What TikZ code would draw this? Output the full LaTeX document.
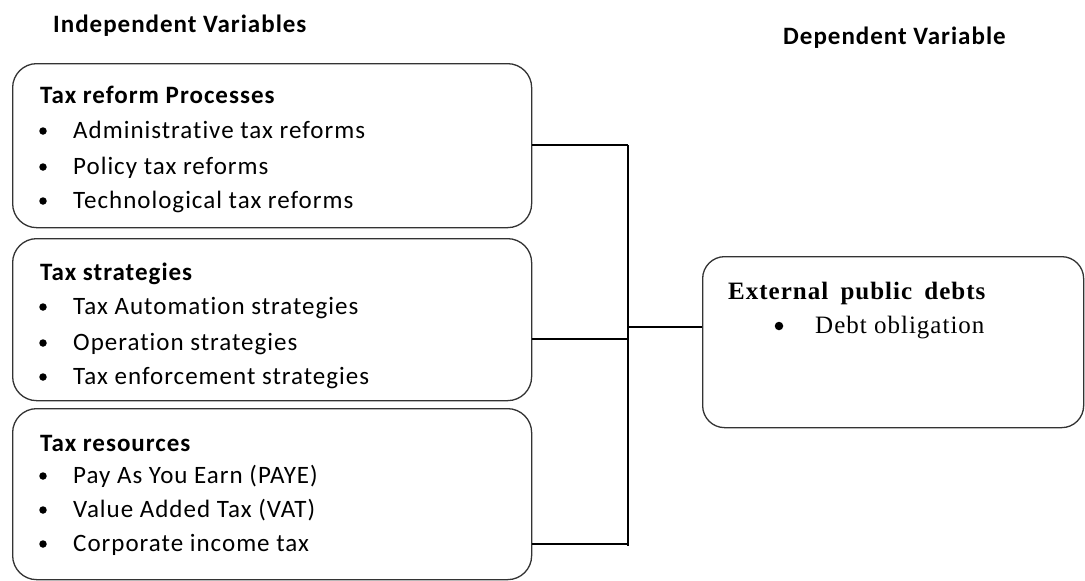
\documentclass[tikz,border=0pt]{standalone}
\usepackage{fontspec}
\setmainfont{Carlito}
\newfontfamily\calfont[LetterSpace=4,Ligatures={NoCommon}]{Carlito}
\newfontfamily\serfont[LetterSpace=4]{Liberation Serif}
\begin{document}
\begin{tikzpicture}[x=1pt,y=-1pt,
  box/.style={draw=black!80, line width=1.3pt, rounded corners=24pt, anchor=north west, inner sep=0pt},
  conn/.style={draw=black, line width=1.3pt},
  txt/.style={anchor=base west, inner sep=0pt, font=\calfont\fontsize{25}{30}\selectfont},
  ttl/.style={anchor=base west, inner sep=0pt, font=\calfont\bfseries\fontsize{25}{30}\selectfont},
  sertxt/.style={anchor=base west, inner sep=0pt, font=\serfont\fontsize{25}{30}\selectfont},
  serttl/.style={anchor=base west, inner sep=0pt, font=\serfont\bfseries\fontsize{25}{30}\selectfont},
  bul/.style={circle, fill=black, inner sep=0pt, minimum size=7.5pt}]
\useasboundingbox (0,0) rectangle (1085,581);
\fill[white] (0,0) rectangle (1085,581);

% headers
\node[ttl] (hind) at (53,32) {Independent Variables};
\node[ttl] (hdep) at (783,44) {Dependent Variable};

% boxes
\node[box, minimum width=519pt, minimum height=164pt] (b1) at (12,63) {};
\node[box, minimum width=519pt, minimum height=162pt] (b2) at (12,238) {};
\node[box, minimum width=519pt, minimum height=171pt] (b3) at (12,408) {};
\node[box, minimum width=381pt, minimum height=171pt, rounded corners=22pt] (dv) at (702,256) {};

% box 1
\node[ttl] (t1) at (40,103) {Tax reform Processes};
\node[bul] (u11) at (43,131) {};
\node[txt] (i11) at (73,138) {Administrative tax reforms};
\node[bul] (u12) at (43,167) {};
\node[txt] (i12) at (73,174) {Policy tax reforms};
\node[bul] (u13) at (43,201) {};
\node[txt] (i13) at (73,208) {Technological tax reforms};

% box 2
\node[ttl] (t2) at (40,280) {Tax strategies};
\node[bul] (u21) at (43,307) {};
\node[txt] (i21) at (73,314) {Tax Automation strategies};
\node[bul] (u22) at (43,343) {};
\node[txt] (i22) at (73,350) {Operation strategies};
\node[bul] (u23) at (43,377) {};
\node[txt] (i23) at (73,384) {Tax enforcement strategies};

% box 3
\node[ttl] (t3) at (40,451) {Tax resources};
\node[bul] (u31) at (43,476) {};
\node[txt] (i31) at (73,483) {Pay As You Earn (PAYE)};
\node[bul] (u32) at (43,510) {};
\node[txt] (i32) at (73,517) {Value Added Tax (VAT)};
\node[bul] (u33) at (43,544) {};
\node[txt] (i33) at (73,551) {Corporate income tax};

% dependent box
\node[serttl] (td) at (728,299) {External\hspace{5pt} public\hspace{5pt} debts};
\node[bul, minimum size=8.5pt] (ud) at (779,326) {};
\node[sertxt] (id) at (815,333) {Debt obligation};

% connectors
\coordinate (j1) at (628,145);
\coordinate (j2) at (628,339);
\coordinate (j3) at (628,544);
\coordinate (jm) at (628,327);
\draw[conn] (b1.east |- j1) -- (j1);
\draw[conn] (b2.east |- j2) -- (j2);
\draw[conn] (b3.east |- j3) -- (j3);
\draw[conn] (j1) -- ([yshift=-1.5pt]j3);
\draw[conn] (jm) -- (dv.west |- jm);
\end{tikzpicture}
\end{document}
